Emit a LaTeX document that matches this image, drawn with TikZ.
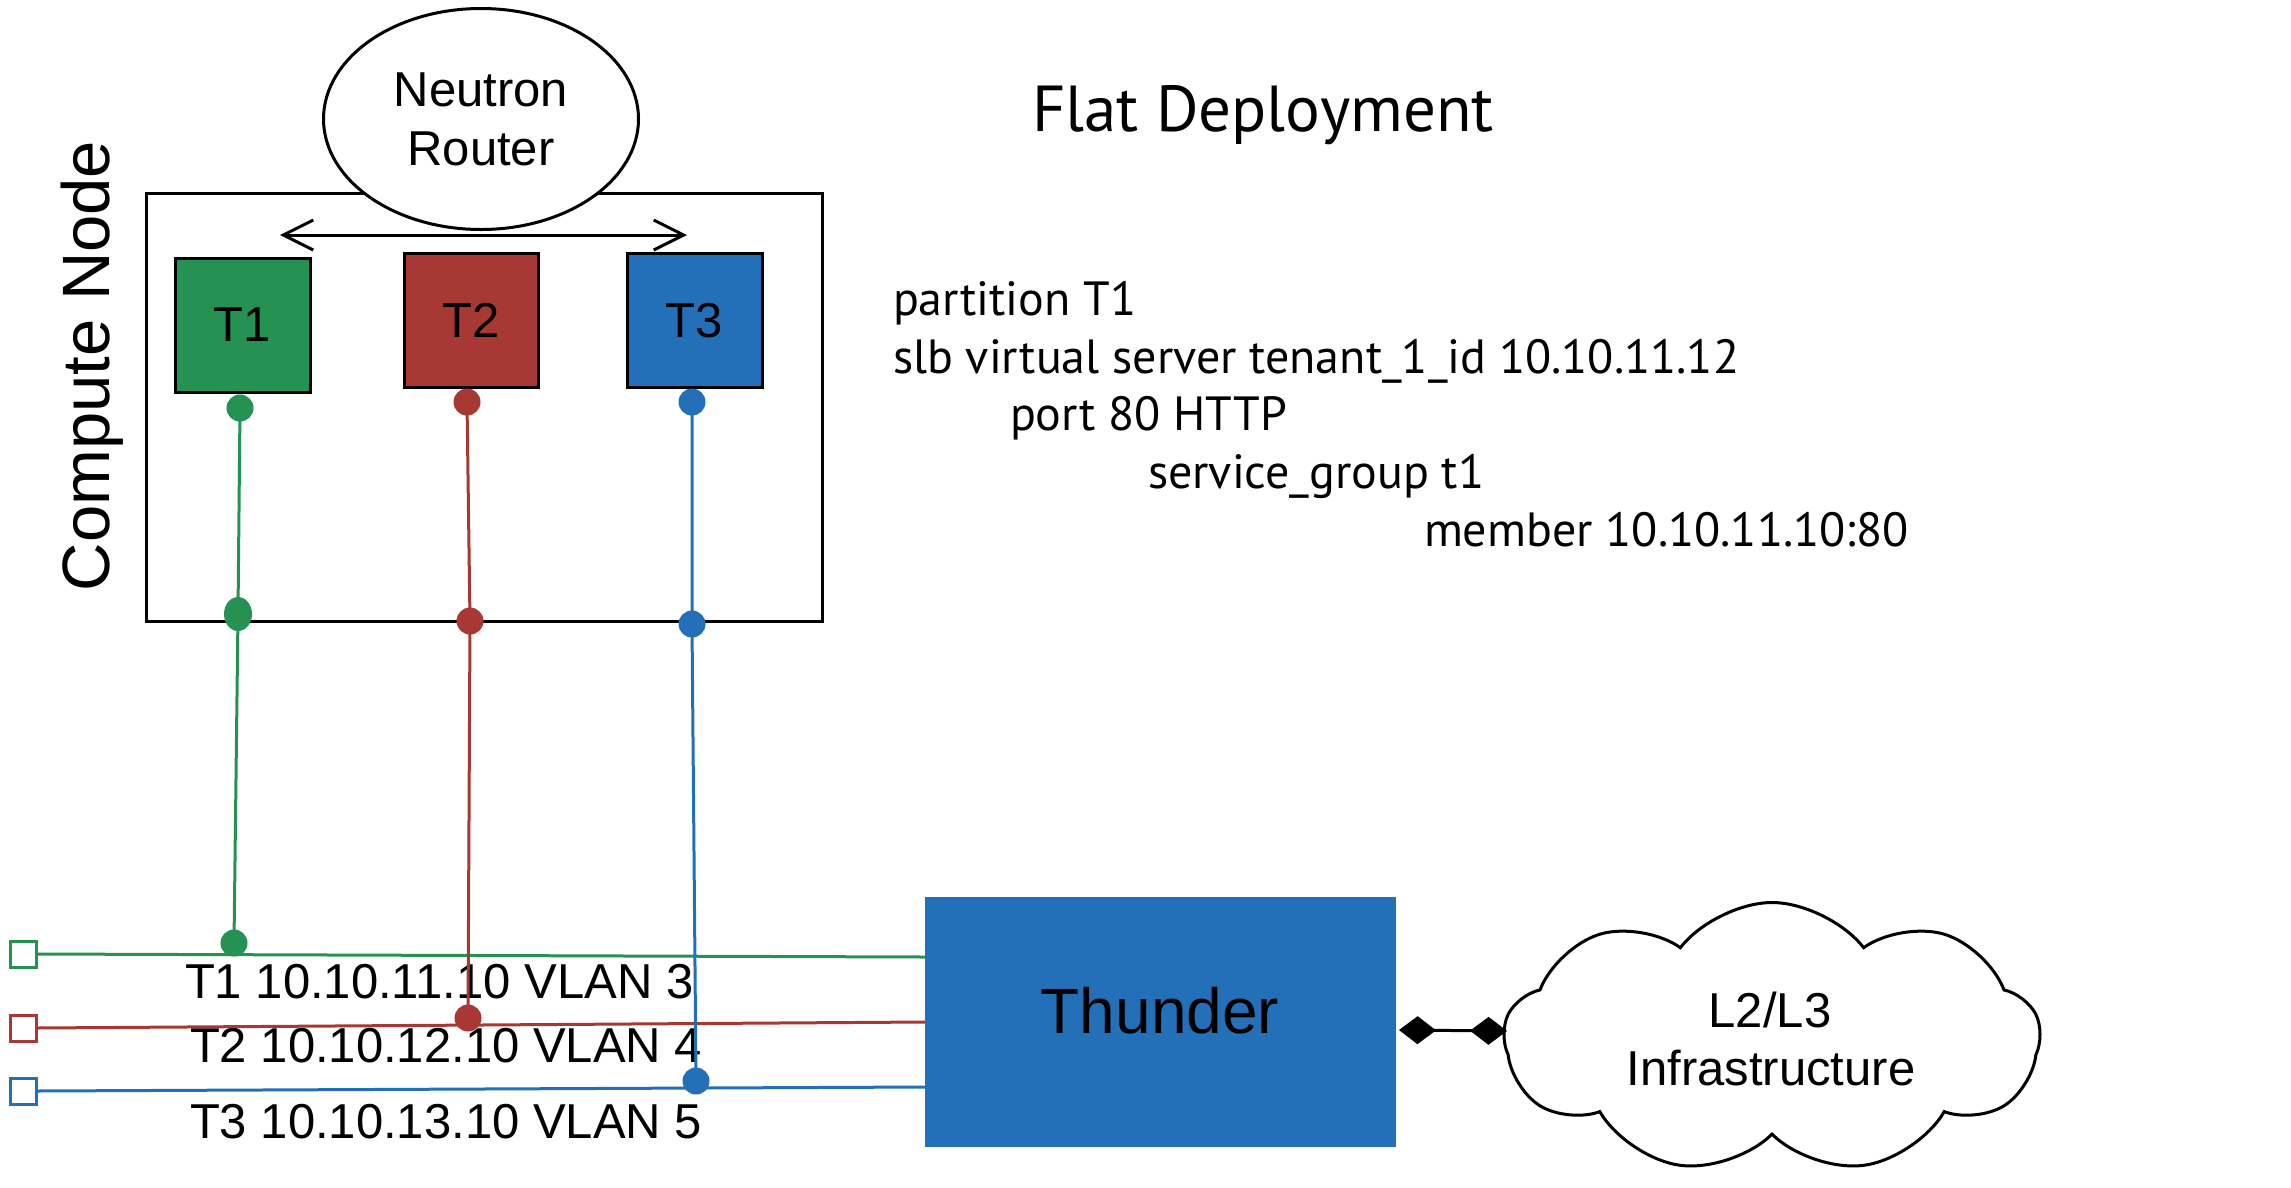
\documentclass[tikz,border=0pt]{standalone}
\usepackage{fontspec}
\setmainfont{Liberation Sans}
\newfontfamily\myriad{PT Sans}
\usetikzlibrary{arrows.meta,shapes.geometric,shapes.symbols}
\definecolor{tgreen}{RGB}{37,145,83}
\definecolor{tred}{RGB}{168,56,52}
\definecolor{tblue}{RGB}{36,112,184}
\begin{document}
\begin{tikzpicture}[x=1pt,y=-1pt,
  every node/.style={inner sep=0pt, outer sep=0pt},
  lbl/.style={font=\fontsize{49}{59}\selectfont},
  tbox/.style={draw=black, line width=3pt, minimum width=134pt, minimum height=134pt, font=\fontsize{49}{59}\selectfont},
  dot/.style={circle, minimum size=27pt},
  tall dot/.style={ellipse, minimum width=28pt, minimum height=34pt},
  sq/.style={draw, fill=white, line width=3pt, minimum size=26pt},
  wire/.style={line width=3pt},
  cfg/.style={font=\myriad\fontsize{48}{58}\selectfont, anchor=base west},
  barb/.tip={Straight Barb[length=30pt,width=30pt]},
  dia/.tip={Diamond[length=37pt,width=28pt]},
]
\useasboundingbox[fill=white] (0,0) rectangle (2291,1187);

% compute node box and router
\node[draw, line width=3pt, minimum width=676pt, minimum height=428pt] (compute) at (484,407) {};
\node[ellipse, draw, fill=white, line width=3pt, minimum width=315pt, minimum height=221pt,
      align=center, font=\fontsize{49}{59}\selectfont] (router) at (481,119) {Neutron\\Router};
\coordinate (al) at (280,235);
\coordinate (ar) at (687,235);
\draw[line width=3pt, barb-barb] (al) -- (ar);

\node[rotate=90, anchor=base, font=\fontsize{67}{80}\selectfont] (cnlabel) at (109,366) {Compute Node};

% tenant boxes
\node[tbox, fill=tgreen, minimum width=135pt] (t1) at (242.5,325) {T1};
\node[tbox, fill=tred] (t2) at (471,320.5) {T2};
\node[tbox, fill=tblue, minimum width=135pt] (t3) at (694.5,320.5) {T3};

% labels
\node[lbl, anchor=base west] (l1) at (185,998) {T1 10.10.11.10 VLAN 3};
\node[lbl, anchor=base west] (l2) at (190,1062) {T2 10.10.12.10 VLAN 4};
\node[lbl, anchor=base west] (l3) at (190,1138) {T3 10.10.13.10 VLAN 5};

% thunder
\node[fill=tblue, minimum width=471pt, minimum height=250pt] (thunder) at (1160.5,1022) {};
\node[anchor=base, font=\fontsize{64}{77}\selectfont] (thundertext) at (1160,1033) {Thunder};

% endpoints
\node[sq, draw=tgreen] (gsq) at (23,954) {};
\node[sq, draw=tred] (rsq) at (23,1028) {};
\node[sq, draw=tblue] (bsq) at (23,1091) {};
\coordinate (gin) at (925,957);
\coordinate (rin) at (925,1022);
\coordinate (bin) at (925,1087);
\draw[wire, tgreen] (gsq.east) -- (gin);
\draw[wire, tred] (rsq.east) -- (rin);
\draw[wire, tblue] (bsq.east) -- (bin);

% dots
\node[dot, fill=tgreen] (g1) at (240,408) {};
\node[tall dot, fill=tgreen] (g2) at (238,614) {};
\node[dot, fill=tgreen] (g3) at (234,943) {};
\node[dot, fill=tred] (r1) at (467,402) {};
\node[dot, fill=tred] (r2) at (470,621) {};
\node[dot, fill=tred] (r3) at (468,1018) {};
\node[dot, fill=tblue] (b1) at (692,402) {};
\node[dot, fill=tblue] (b2) at (692,624) {};
\node[dot, fill=tblue] (b3) at (696,1081) {};
\draw[wire, tgreen] (g1.center) -- (g2.center) -- (g3.center);
\draw[wire, tred] (r1.center) -- (r2.center) -- (r3.center);
\draw[wire, tblue] (b1.center) -- (b2.center) -- (b3.center);

% cloud
\node[cloud, draw, line width=3pt, fill=white, cloud puffs=9, cloud puff arc=105, aspect=2,
      minimum width=536pt, minimum height=271pt] (cloud) at (1772,1038) {};
\node[lbl, anchor=base] (cl1) at (1770,1027) {L2/L3};
\node[lbl, anchor=base] (cl2) at (1771,1085) {Infrastructure};
\coordinate (dl) at (1399,1030);
\coordinate (dr) at (1507,1031);
\draw[line width=3pt, dia-dia] (dl) -- (dr);

% title and config
\node[cfg, font=\myriad\fontsize{65}{78}\selectfont] (title) at (1032,131) {Flat Deployment};
\node[cfg] (c1) at (893,315) {partition T1};
\node[cfg] (c2) at (893,373) {slb virtual server tenant\_1\_id 10.10.11.12};
\node[cfg] (c3) at (1010,430) {port 80 HTTP};
\node[cfg] (c4) at (1148,488) {service\_group t1};
\node[cfg] (c5) at (1424,546) {member 10.10.11.10:80};
\end{tikzpicture}
\end{document}
